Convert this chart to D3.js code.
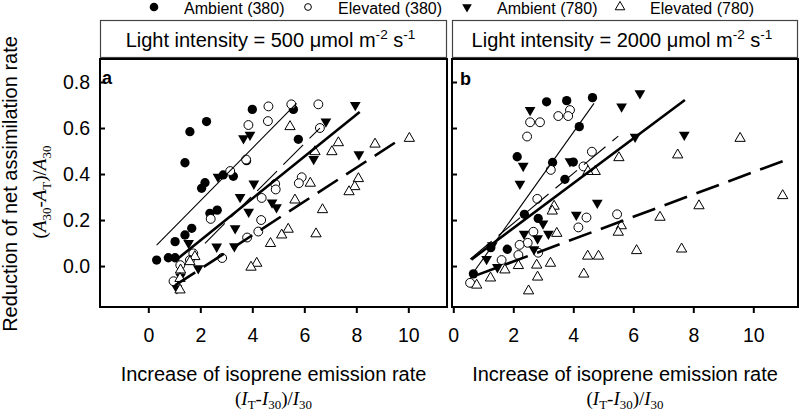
<!DOCTYPE html>
<html><head><meta charset="utf-8">
<script src="https://cdn.jsdelivr.net/npm/d3@7"></script>
<style>body{margin:0;background:#fff}svg{display:block}</style>
</head><body><svg id="c" width="800" height="414"></svg>
<script>
// ---------- data ----------
const xTicks = [0, 2, 4, 6, 8, 10];
const yTicks = [0, 0.2, 0.4, 0.6, 0.8];
const seriesNames = ["Ambient (380)", "Elevated (380)", "Ambient (780)", "Elevated (780)"];
const panelLabels = ["a", "b"];
const lightIntensity = ["500", "2000"];
const xDomainA = [-1.858, 11.488];
const xDomainB = [-0.043, 11.49];
const yDomain = [-0.178, 0.9];

// Panel a (500 µmol m-2 s-1)
const a_amb380 = [[0.32,0.026],[0.77,0.036],[1.03,0.036],[1.03,0.106],[1.41,0.135],[1.67,0.164],[1.41,0.449],[1.6,0.584],[2.24,0.628],[2.05,0.338],[2.18,0.362],[2.37,0.229],[2.65,0.243],[2.88,0.396],[3.27,0.39],[3.78,0.458],[4.0,0.681],[5.58,0.681],[5.77,0.551]];
const a_ele380 = [[4.62,0.694],[5.5,0.703],[6.54,0.703],[3.85,0.613],[4.6,0.63],[6.6,0.6],[3.76,0.463],[3.15,0.413],[5.9,0.386],[5.79,0.36],[4.88,0.357],[4.9,0.333],[4.36,0.296],[2.4,0.205],[4.34,0.2],[4.23,0.15],[3.8,0.124],[2.84,0.035],[1.23,0.004],[1.73,0.055],[0.97,-0.066],[1.6,0.026]];
const a_amb780 = [[7.96,0.7],[6.83,0.628],[3.66,0.555],[3.91,0.57],[2.68,0.388],[6.36,0.465],[8.1,0.485],[4.06,0.358],[3.53,0.3],[3.86,0.236],[4.76,0.276],[4.93,0.255],[3.34,0.164],[2.63,0.084],[3.31,0.086],[1.55,0.1],[1.92,-0.01],[1.1,-0.097],[1.24,-0.046]];
const a_ele780 = [[5.45,0.606],[10.04,0.555],[8.72,0.53],[7.31,0.536],[7.06,0.497],[6.41,0.497],[6.23,0.36],[8.08,0.38],[7.94,0.345],[7.72,0.323],[5.64,0.287],[6.7,0.245],[5.38,0.16],[5.13,0.135],[4.7,0.098],[6.45,0.14],[4.17,0.012],[3.95,-0.005],[1.79,0.041],[1.6,0.019],[1.24,-0.017],[1.22,-0.054],[1.22,-0.104]];
// regression lines [xStart, yStart, xEnd, yEnd]: amb380, ele380, amb780, ele780
const a_lines = [[0.32,0.091,5.7,0.707],[2.18,0.099,6.6,0.6],[1.12,0.031,8.13,0.67],[1.03,-0.084,9.74,0.555]];

// Panel b (2000 µmol m-2 s-1)
const b_amb380 = [[3.11,0.714],[3.78,0.719],[4.64,0.732],[4.2,0.606],[2.13,0.475],[3.31,0.45],[4.0,0.452],[3.72,0.377],[2.37,0.225],[2.83,0.207],[1.8,0.073],[1.25,0.08],[0.67,-0.034]];
const b_ele380 = [[3.89,0.678],[3.83,0.652],[3.5,0.652],[2.56,0.625],[2.89,0.625],[2.46,0.563],[4.62,0.497],[4.34,0.433],[3.25,0.418],[2.8,0.292],[5.46,0.225],[4.44,0.211],[4.17,0.168],[2.67,0.149],[2.48,0.101],[2.21,0.092],[2.83,0.058],[2.17,0.048],[1.61,0.026],[0.56,-0.073]];
const b_amb780 = [[6.22,0.751],[5.61,0.693],[2.56,0.678],[6.06,0.562],[7.7,0.57],[2.33,0.435],[3.89,0.455],[2.22,0.357],[4.8,0.275],[4.1,0.223],[2.99,0.185],[2.36,0.14],[3.17,0.14],[2.81,0.12],[2.69,0.073],[1.3,0.09],[1.11,0.03],[1.47,-0.005]];
const b_ele780 = [[9.56,0.555],[7.48,0.483],[5.52,0.471],[4.73,0.411],[4.49,0.411],[3.36,0.26],[3.3,0.239],[10.98,0.306],[8.19,0.262],[6.89,0.212],[5.6,0.175],[5.5,0.147],[3.45,0.142],[6.11,0.067],[7.61,0.074],[4.84,0.043],[4.48,0.043],[3.24,0.012],[2.78,0.004],[2.17,0.002],[1.72,-0.017],[1.24,-0.052],[0.78,-0.083],[2.81,-0.048],[4.35,-0.035],[2.51,-0.108]];
const b_lines = [[0.61,-0.039,4.69,0.707],[0.56,0.03,5.5,0.565],[0.6,0.028,7.72,0.722],[0.67,-0.045,11.0,0.457]];

// ---------- drawing ----------
const svg = d3.select("#c");
const SANS = "'Liberation Sans', Arial, sans-serif";
const SERIF = "'Liberation Serif', 'Times New Roman', serif";
const plotTop = 59, plotBottom = 307;

const styles = [
  {sym: d3.symbolCircle, size: 68, fill: "#000", stroke: "none", rot: 0},
  {sym: d3.symbolCircle, size: 62, fill: "#fff", stroke: "#000", rot: 0},
  {sym: d3.symbolTriangle, size: 50, fill: "#000", stroke: "none", rot: 180},
  {sym: d3.symbolTriangle, size: 46, fill: "#fff", stroke: "#000", rot: 0}
];
const lineStyles = [
  {w: 1.1, dash: null},
  {w: 1.1, dash: "28,9"},
  {w: 2.6, dash: null},
  {w: 2.6, dash: "24,10"}
];

function richText(sel, segs, fs, subShift) {
  let shift = 0;
  segs.forEach(s => {
    const t = sel.append("tspan").text(s.t);
    let target = 0;
    if (s.sub) target = fs * (subShift || 0.28);
    if (s.sup) target = -fs * 0.38;
    t.attr("dy", target - shift);
    shift = target;
    if (s.sub || s.sup) t.attr("font-size", fs * 0.68);
    if (s.i) t.attr("font-style", "italic");
  });
}

const panels = [
  {x0: 100, x1: 447, dom: xDomainA, data: [a_amb380, a_ele380, a_amb780, a_ele780], lines: a_lines, yLabels: true, lx: 102, ly: 83.5},
  {x0: 452, x1: 798, dom: xDomainB, data: [b_amb380, b_ele380, b_amb780, b_ele780], lines: b_lines, yLabels: false, lx: 460, ly: 85}
];

const y = d3.scaleLinear().domain(yDomain).range([plotBottom, plotTop]);

panels.forEach((p, pi) => {
  const x = d3.scaleLinear().domain(p.dom).range([p.x0, p.x1]);
  const g = svg.append("g");

  // header box
  g.append("rect").attr("x", p.x0 + 0.5).attr("y", 20.5).attr("width", p.x1 - p.x0 - 1).attr("height", 37)
    .attr("fill", "#fff").attr("stroke", "#444").attr("stroke-width", 1.2);
  const ht = g.append("text").attr("x", (p.x0 + p.x1) / 2 - 3).attr("y", 46.5).attr("text-anchor", "middle")
    .attr("font-family", SANS).attr("font-size", 20);
  richText(ht, [{t: "Light intensity = " + lightIntensity[pi] + " \u03bcmol m"}, {t: "-2", sup: true}, {t: " s"}, {t: "-1", sup: true}], 20);

  // points
  p.data.forEach((arr, si) => {
    const st = styles[si];
    const gen = d3.symbol(st.sym, st.size);
    g.append("g").selectAll("path").data(arr).join("path")
      .attr("d", gen)
      .attr("transform", d => `translate(${x(d[0])},${y(d[1])}) rotate(${st.rot})`)
      .attr("fill", st.fill).attr("stroke", st.stroke).attr("stroke-width", 1);
  });

  // regression lines
  p.lines.forEach((l, li) => {
    const ls = lineStyles[li];
    g.append("line").attr("x1", x(l[0])).attr("y1", y(l[1])).attr("x2", x(l[2])).attr("y2", y(l[3]))
      .attr("stroke", "#000").attr("stroke-width", ls.w).attr("stroke-dasharray", ls.dash);
  });

  // frame
  g.append("rect").attr("x", p.x0).attr("y", plotTop).attr("width", p.x1 - p.x0).attr("height", plotBottom - plotTop)
    .attr("fill", "none").attr("stroke", "#000").attr("stroke-width", 2);

  // axes
  const xa = g.append("g").attr("transform", `translate(0,${plotBottom})`)
    .call(d3.axisBottom(x).tickValues(xTicks).tickSize(6).tickSizeOuter(0).tickPadding(15).tickFormat(d3.format("d")));
  xa.select(".domain").remove();
  xa.selectAll("line").attr("stroke-width", 2);
  xa.selectAll("text").attr("font-family", SANS).attr("font-size", 19.5).attr("fill", "#000");

  const ya = g.append("g").attr("transform", `translate(${p.x0},0)`)
    .call(d3.axisLeft(y).tickValues(yTicks).tickSize(-5).tickSizeOuter(0).tickPadding(10)
      .tickFormat(p.yLabels ? d3.format(".1f") : () => ""));
  ya.select(".domain").remove();
  ya.selectAll("line").attr("stroke-width", 2);
  ya.selectAll("text").attr("font-family", SANS).attr("font-size", 19.5).attr("fill", "#000");

  // panel letter
  g.append("text").attr("x", p.lx).attr("y", p.ly).text(panelLabels[pi])
    .attr("font-family", SANS).attr("font-weight", "bold").attr("font-size", 18);

  // x titles
  const cx = (p.x0 + p.x1) / 2;
  g.append("text").attr("x", cx).attr("y", 381).attr("text-anchor", "middle")
    .attr("font-family", SANS).attr("font-size", 20).text("Increase of isoprene emission rate");
  const xt2 = g.append("text").attr("x", cx).attr("y", 405).attr("text-anchor", "middle")
    .attr("font-family", SERIF).attr("font-size", 19);
  richText(xt2, [{t: "("}, {t: "I", i: true}, {t: "T", sub: true}, {t: "-"}, {t: "I", i: true}, {t: "30", sub: true}, {t: ")/"}, {t: "I", i: true}, {t: "30", sub: true}], 19, 0.2);
});

// y titles
svg.append("text").attr("transform", "translate(17,184) rotate(-90)").attr("text-anchor", "middle")
  .attr("font-family", SANS).attr("font-size", 20).text("Reduction of net assimilation rate");
const yt2 = svg.append("text").attr("transform", "translate(46,192) rotate(-90)").attr("text-anchor", "middle")
  .attr("font-family", SERIF).attr("font-size", 19);
richText(yt2, [{t: "("}, {t: "A", i: true}, {t: "30", sub: true}, {t: "-"}, {t: "A", i: true}, {t: "T", sub: true}, {t: ")/"}, {t: "A", i: true}, {t: "30", sub: true}], 19);

// legend
const legX = [154, 308, 467, 620];
const legTX = [184, 338, 497, 650];
const legSizes = [58, 36, 40, 40];
seriesNames.forEach((name, i) => {
  const st = styles[i];
  svg.append("path").attr("d", d3.symbol(st.sym, legSizes[i]))
    .attr("transform", `translate(${legX[i]},7) rotate(${st.rot})`)
    .attr("fill", st.fill).attr("stroke", st.stroke).attr("stroke-width", 1);
  svg.append("text").attr("x", legTX[i]).attr("y", 13.5).attr("font-family", SANS).attr("font-size", 16).text(name);
});
</script></body></html>
